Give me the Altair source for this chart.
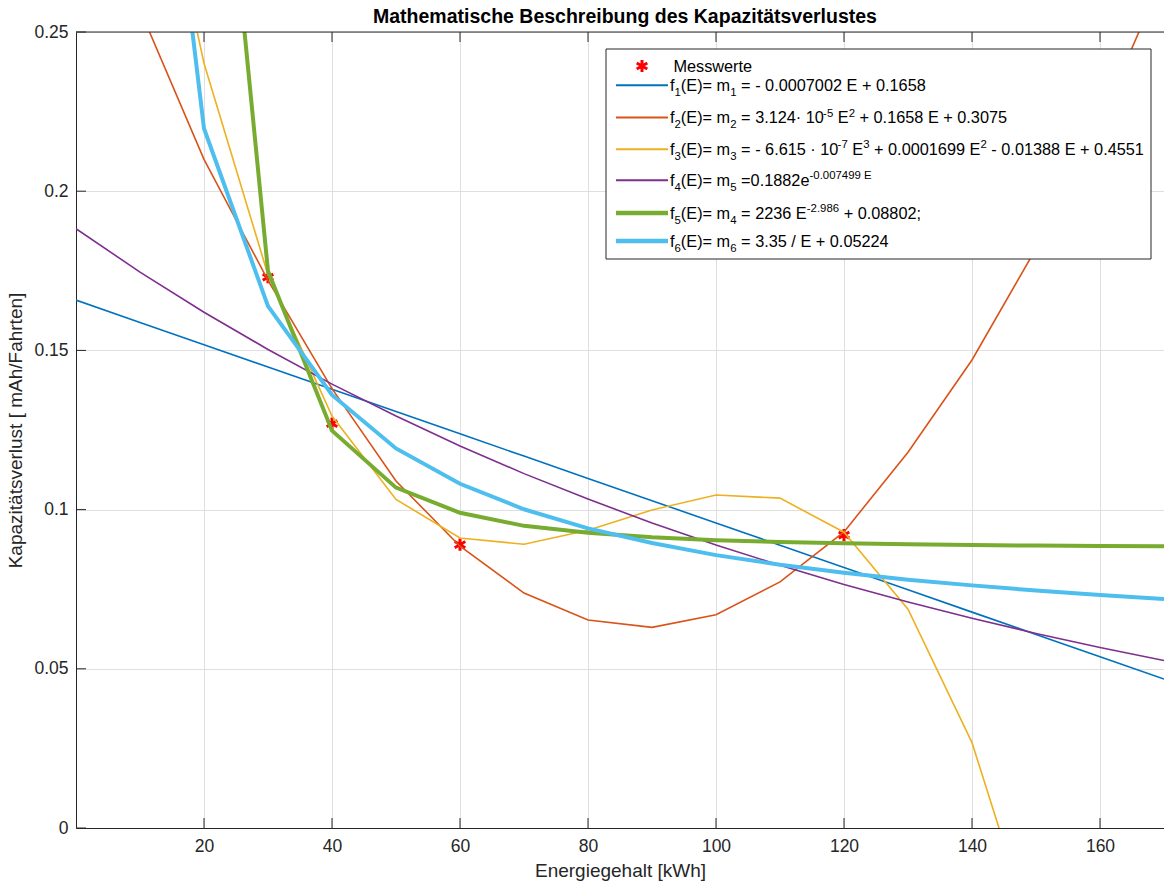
import altair as alt
import pandas as pd

# ---------------- data ----------------
E_ALL = [0, 10, 20, 30, 40, 50, 60, 70, 80, 90, 100, 110, 120, 130, 140, 150, 160, 170]
E_FROM10 = E_ALL[1:]
E_FROM20 = E_ALL[2:]

F1 = [0.1658, 0.1588, 0.1518, 0.1448, 0.1378, 0.1308, 0.1238, 0.1168, 0.1098,
      0.1028, 0.0958, 0.0888, 0.0818, 0.0748, 0.0678, 0.0608, 0.0538, 0.0468]
F2 = [0.309, 0.257, 0.210, 0.172, 0.138, 0.109, 0.0885, 0.0738, 0.0653,
      0.0630, 0.0670, 0.0773, 0.093, 0.118, 0.147, 0.182, 0.222, 0.268]
F3 = [0.4551, 0.3326, 0.2402, 0.1737, 0.1294, 0.1032, 0.0911, 0.0891, 0.0935,
      0.0999, 0.1046, 0.1036, 0.0929, 0.0687, 0.0268, -0.0367, -0.1258, -0.2444]
F4 = [0.1882, 0.1746, 0.1620, 0.1503, 0.1394, 0.1294, 0.1200, 0.1113, 0.1033,
      0.0958, 0.0889, 0.0825, 0.0765, 0.0710, 0.0659, 0.0611, 0.0567, 0.0526]
F5 = [0.3795, 0.1749, 0.1248, 0.1069, 0.0990, 0.0949, 0.0927, 0.0913, 0.0904,
      0.0898, 0.0894, 0.0891, 0.0889, 0.0887, 0.0886, 0.0885]
F6 = [0.3872, 0.2197, 0.1639, 0.1360, 0.1192, 0.1081, 0.1001, 0.0941, 0.0895,
      0.0857, 0.0827, 0.0802, 0.0780, 0.0762, 0.0746, 0.0732, 0.0719]

MESS_E = [30, 40, 60, 120]
MESS_V = [0.173, 0.127, 0.089, 0.092]

SERIES = ["f1", "f2", "f3", "f4", "f5", "f6"]
COLORS = ["#0072BD", "#D95319", "#EDB120", "#7E2F8E", "#77AC30", "#4DBEEE"]
WIDTHS = [1.6, 1.6, 1.6, 1.6, 4.0, 4.0]

X_TICKS = [20, 40, 60, 80, 100, 120, 140, 160]
Y_TICKS = [0, 0.05, 0.1, 0.15, 0.2, 0.25]

TITLE = "Mathematische Beschreibung des Kapazitätsverlustes"
X_TITLE = "Energiegehalt [kWh]"
Y_TITLE = "Kapazitätsverlust [ mAh/Fahrten]"

LEGEND_ROWS = [
    [("f", "n"), ("1", "sub"), ("(E)= m", "n"), ("1", "sub"), (" = - 0.0007002 E + 0.1658", "n")],
    [("f", "n"), ("2", "sub"), ("(E)= m", "n"), ("2", "sub"), (" = 3.124· 10", "n"), ("-5", "sup"),
     (" E", "n"), ("2", "sup"), (" + 0.1658 E + 0.3075", "n")],
    [("f", "n"), ("3", "sub"), ("(E)= m", "n"), ("3", "sub"), (" = - 6.615 · 10", "n"), ("-7", "sup"),
     (" E", "n"), ("3", "sup"), (" + 0.0001699 E", "n"), ("2", "sup"), (" - 0.01388 E + 0.4551", "n")],
    [("f", "n"), ("4", "sub"), ("(E)= m", "n"), ("5", "sub"), (" =0.1882e", "n"), ("-0.007499 E", "sup")],
    [("f", "n"), ("5", "sub"), ("(E)= m", "n"), ("4", "sub"), (" = 2236 E", "n"), ("-2.986", "sup"),
     (" + 0.08802;", "n")],
    [("f", "n"), ("6", "sub"), ("(E)= m", "n"), ("6", "sub"), (" = 3.35 / E + 0.05224", "n")],
]
LEGEND_MESS = "Messwerte"

# ---------------- layout / style ----------------
W, H = 1088, 796
FONT = "Liberation Sans"
TXT = "#262626"
GRID = "#dfdfdf"
FS_LEG, FS_SMALL = 16.3, 11.4
SUB_DY, SUP_DY = 5.0, -6.5

# Arial/Liberation Sans advance widths (1/1000 em)
ADV = {" ": 278, ".": 278, ";": 278, "(": 333, ")": 333, "=": 584, "+": 584, "-": 333,
       "/": 278, "·": 278, "E": 667, "M": 833, "e": 556, "f": 278, "m": 833, "s": 500,
       "w": 722, "r": 333, "t": 278}


def adv(s, fs):
    return sum(ADV.get(c, 556) for c in s) / 1000.0 * fs


# legend geometry (plot-area pixel coordinates)
BOX = (530, 17, 1075, 227)
ROW_BASE = [58.8, 91.0, 122.8, 153.8, 186.5, 214.5]
MESS_BASE = 39.5
LINE_X = (540, 592)
TEXT_X = 594.0

norm_rows, small_rows, sym_rows = [], [], []
for i, row in enumerate(LEGEND_ROWS):
    x = TEXT_X
    base = ROW_BASE[i]
    for txt, kind in row:
        fs = FS_LEG if kind == "n" else FS_SMALL
        lead = len(txt) - len(txt.lstrip(" "))
        core = txt.strip(" ")
        if core:
            dy = 0 if kind == "n" else (SUB_DY if kind == "sub" else SUP_DY)
            rec = {"px": x + adv(" " * lead, fs), "py": base + dy, "t": core}
            (norm_rows if kind == "n" else small_rows).append(rec)
        x += adv(txt, fs)
    sym_rows.append({"x1": LINE_X[0], "x2": LINE_X[1], "py": base - 5.5,
                     "col": COLORS[i], "w": WIDTHS[i] + 0.4})
norm_rows.append({"px": TEXT_X + 3.4, "py": MESS_BASE, "t": LEGEND_MESS})

# ---------------- data frames ----------------
rows = []
for k, (xs, ys) in enumerate([(E_ALL, F1), (E_ALL, F2), (E_ALL, F3),
                              (E_ALL, F4), (E_FROM20, F5), (E_FROM10, F6)]):
    for e, v in zip(xs, ys):
        rows.append({"E": e, "v": v, "series": SERIES[k], "w": WIDTHS[k]})
lines_df = pd.DataFrame(rows)
mess_df = pd.DataFrame({"E": MESS_E, "v": MESS_V})
xt_df = pd.DataFrame({"E": X_TICKS})
yt_df = pd.DataFrame({"v": Y_TICKS})
one_df = pd.DataFrame({"k": [0]})

x_scale = alt.Scale(domain=[0, 170], nice=False, zero=False)
y_scale = alt.Scale(domain=[0, 0.25], nice=False, zero=False)

ASTERISK = "M0,-1L0,1M-0.866,-0.5L0.866,0.5M-0.866,0.5L0.866,-0.5"

base_x = alt.X("E:Q", scale=x_scale,
               axis=alt.Axis(values=X_TICKS, title=X_TITLE, grid=True, gridColor=GRID,
                             ticks=False, domainColor=TXT, labelColor=TXT, titleColor=TXT,
                             labelFontSize=17.5, titleFontSize=19, titleFontWeight="normal",
                             labelFont=FONT, titleFont=FONT, labelPadding=9, titlePadding=7))
base_y = alt.Y("v:Q", scale=y_scale,
               axis=alt.Axis(values=Y_TICKS, format=".2~f", title=Y_TITLE, grid=True,
                             gridColor=GRID, ticks=False, domainColor=TXT, labelColor=TXT,
                             titleColor=TXT, labelFontSize=17.5, titleFontSize=19,
                             titleFontWeight="normal", labelFont=FONT, titleFont=FONT,
                             labelPadding=8, titlePadding=8))

points = alt.Chart(mess_df).mark_point(shape=ASTERISK, size=150, filled=False,
                                       strokeWidth=3, color="#FF0000", opacity=1,
                                       clip=True).encode(x=base_x, y=base_y)

lines = alt.Chart(lines_df).mark_line(clip=True).encode(
    x=alt.X("E:Q", scale=x_scale),
    y=alt.Y("v:Q", scale=y_scale),
    color=alt.Color("series:N", scale=alt.Scale(domain=SERIES, range=COLORS), legend=None),
    strokeWidth=alt.StrokeWidth("w:Q", scale=None, legend=None),
    detail="series:N",
)

tick_bottom = alt.Chart(xt_df).mark_rule(color=TXT, strokeWidth=1).encode(
    x=alt.X("E:Q", scale=x_scale), y=alt.value(H), y2=alt.value(H - 10))
tick_top = alt.Chart(xt_df).mark_rule(color=TXT, strokeWidth=1).encode(
    x=alt.X("E:Q", scale=x_scale), y=alt.value(0), y2=alt.value(10))
tick_left = alt.Chart(yt_df).mark_rule(color=TXT, strokeWidth=1).encode(
    y=alt.Y("v:Q", scale=y_scale), x=alt.value(0), x2=alt.value(10))
top_border = alt.Chart(one_df).mark_rule(color=TXT, strokeWidth=1).encode(
    x=alt.value(0), x2=alt.value(W), y=alt.value(0))

title = alt.Chart(one_df).mark_text(font=FONT, fontSize=19.5, fontWeight="bold",
                                    align="center", baseline="alphabetic",
                                    color="#000000").encode(
    x=alt.value(549), y=alt.value(-9), text=alt.value(TITLE))

legend_box = alt.Chart(one_df).mark_rect(fill="white", stroke=TXT, strokeWidth=1).encode(
    x=alt.value(BOX[0]), x2=alt.value(BOX[2]), y=alt.value(BOX[1]), y2=alt.value(BOX[3]))

legend_syms = alt.Chart(pd.DataFrame(sym_rows)).mark_rule().encode(
    x=alt.X("x1:Q", scale=None, axis=None), x2="x2:Q",
    y=alt.Y("py:Q", scale=None, axis=None),
    color=alt.Color("col:N", scale=None, legend=None),
    strokeWidth=alt.StrokeWidth("w:Q", scale=None, legend=None))

legend_mark = alt.Chart(one_df).mark_point(shape=ASTERISK, size=150, filled=False,
                                           strokeWidth=3, color="#FF0000", opacity=1).encode(
    x=alt.value((LINE_X[0] + LINE_X[1]) / 2), y=alt.value(MESS_BASE - 5.5))

legend_text = alt.Chart(pd.DataFrame(norm_rows)).mark_text(
    font=FONT, fontSize=FS_LEG, align="left", baseline="alphabetic", color="#000000").encode(
    x=alt.X("px:Q", scale=None, axis=None), y=alt.Y("py:Q", scale=None, axis=None), text="t:N")

legend_small = alt.Chart(pd.DataFrame(small_rows)).mark_text(
    font=FONT, fontSize=FS_SMALL, align="left", baseline="alphabetic", color="#000000").encode(
    x=alt.X("px:Q", scale=None, axis=None), y=alt.Y("py:Q", scale=None, axis=None), text="t:N")

chart = alt.layer(
    points, lines, tick_bottom, tick_top, tick_left, top_border, title,
    legend_box, legend_syms, legend_mark, legend_text, legend_small,
).properties(
    width=W, height=H,
    padding={"left": 76, "top": 32, "right": 0, "bottom": 56},
    autosize=alt.AutoSizeParams(type="none"),
    background="white",
).configure_view(stroke=None)

chart.save("out.html", embed_options={"renderer": "svg", "actions": False})
